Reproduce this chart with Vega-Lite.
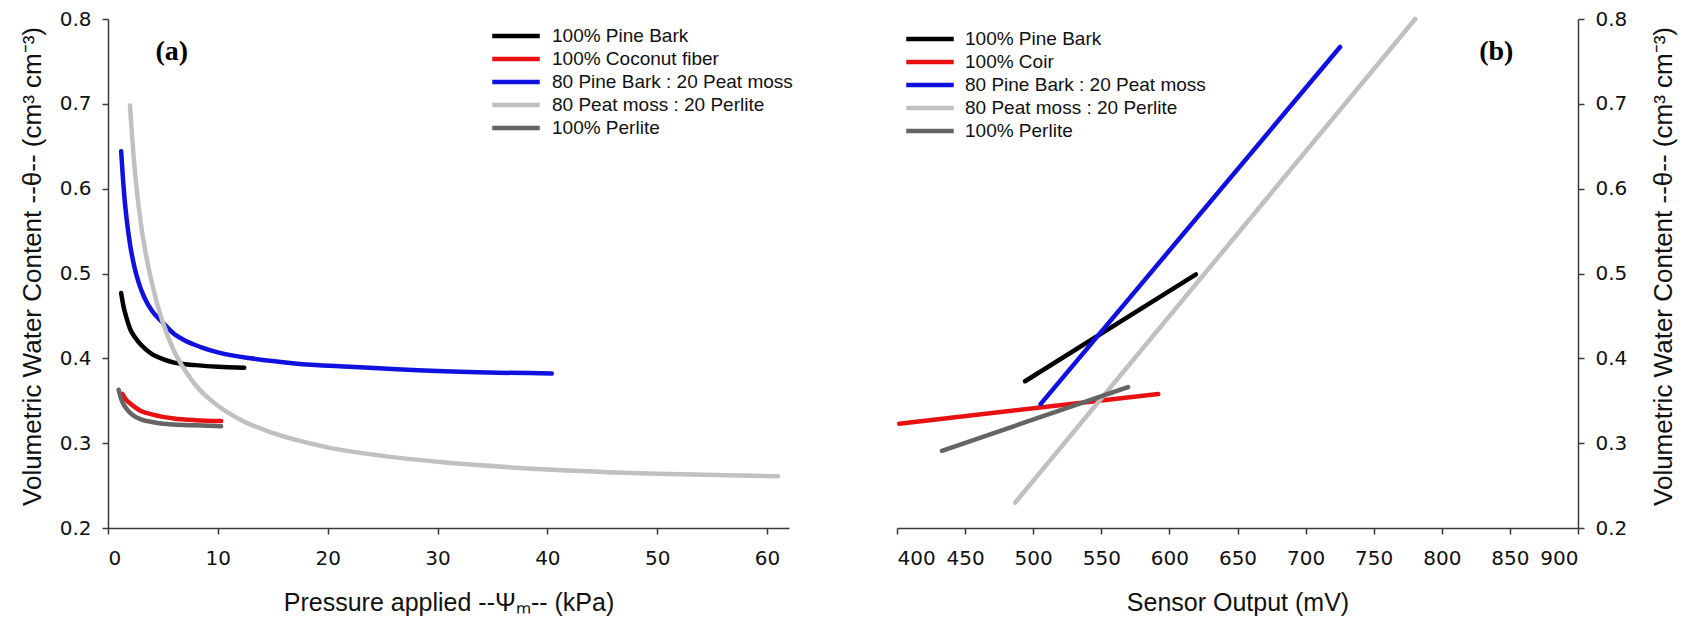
{
  "$schema": "https://vega.github.io/schema/vega-lite/v6.json",
  "background": "white",
  "padding": {"left": 19, "top": 9, "right": 2, "bottom": 5},
  "bounds": "flush",
  "spacing": 108,
  "config": {
    "font": "Liberation Sans",
    "view": {"stroke": null},
    "axis": {
      "domainColor": "#3a3a3a",
      "tickColor": "#3a3a3a",
      "domainWidth": 1.5,
      "tickWidth": 1.5,
      "tickSize": 6,
      "grid": false,
      "labelFont": "DejaVu Sans",
      "labelFontSize": 20,
      "labelColor": "#111111",
      "titleFontSize": 25,
      "titleFontWeight": "normal",
      "titleColor": "#111111",
      "labelPadding": 11
    },
    "legend": {
      "labelColor": "#111111",
      "labelLimit": 0,
      "symbolType": "M-2.5,0H2.5",
      "symbolStrokeWidth": 4.5,
      "symbolSize": 361,
      "rowPadding": 1,
      "padding": 0
    }
  },
  "datasets": {
    "retention": [
      {"series": "100% Pine Bark", "kPa": 1.2, "vwc": 0.477},
      {"series": "100% Pine Bark", "kPa": 1.4, "vwc": 0.462},
      {"series": "100% Pine Bark", "kPa": 1.7, "vwc": 0.447},
      {"series": "100% Pine Bark", "kPa": 2.0, "vwc": 0.435},
      {"series": "100% Pine Bark", "kPa": 2.5, "vwc": 0.424},
      {"series": "100% Pine Bark", "kPa": 3.0, "vwc": 0.416},
      {"series": "100% Pine Bark", "kPa": 4.0, "vwc": 0.405},
      {"series": "100% Pine Bark", "kPa": 5.0, "vwc": 0.399},
      {"series": "100% Pine Bark", "kPa": 6.0, "vwc": 0.395},
      {"series": "100% Pine Bark", "kPa": 8.0, "vwc": 0.392},
      {"series": "100% Pine Bark", "kPa": 10.0, "vwc": 0.390},
      {"series": "100% Pine Bark", "kPa": 12.4, "vwc": 0.389},
      {"series": "100% Coconut fiber", "kPa": 1.3, "vwc": 0.358},
      {"series": "100% Coconut fiber", "kPa": 1.6, "vwc": 0.352},
      {"series": "100% Coconut fiber", "kPa": 2.0, "vwc": 0.347},
      {"series": "100% Coconut fiber", "kPa": 2.5, "vwc": 0.342},
      {"series": "100% Coconut fiber", "kPa": 3.0, "vwc": 0.338},
      {"series": "100% Coconut fiber", "kPa": 4.0, "vwc": 0.334},
      {"series": "100% Coconut fiber", "kPa": 5.0, "vwc": 0.331},
      {"series": "100% Coconut fiber", "kPa": 6.0, "vwc": 0.329},
      {"series": "100% Coconut fiber", "kPa": 8.0, "vwc": 0.327},
      {"series": "100% Coconut fiber", "kPa": 10.3, "vwc": 0.326},
      {"series": "80 Pine Bark : 20 Peat moss", "kPa": 1.2, "vwc": 0.644},
      {"series": "80 Pine Bark : 20 Peat moss", "kPa": 1.35, "vwc": 0.614},
      {"series": "80 Pine Bark : 20 Peat moss", "kPa": 1.5, "vwc": 0.589},
      {"series": "80 Pine Bark : 20 Peat moss", "kPa": 1.7, "vwc": 0.564},
      {"series": "80 Pine Bark : 20 Peat moss", "kPa": 2.0, "vwc": 0.535},
      {"series": "80 Pine Bark : 20 Peat moss", "kPa": 2.4, "vwc": 0.508},
      {"series": "80 Pine Bark : 20 Peat moss", "kPa": 2.8, "vwc": 0.489},
      {"series": "80 Pine Bark : 20 Peat moss", "kPa": 3.3, "vwc": 0.472},
      {"series": "80 Pine Bark : 20 Peat moss", "kPa": 4.0, "vwc": 0.456},
      {"series": "80 Pine Bark : 20 Peat moss", "kPa": 5.0, "vwc": 0.442},
      {"series": "80 Pine Bark : 20 Peat moss", "kPa": 6.0, "vwc": 0.429},
      {"series": "80 Pine Bark : 20 Peat moss", "kPa": 7.0, "vwc": 0.421},
      {"series": "80 Pine Bark : 20 Peat moss", "kPa": 8.5, "vwc": 0.413},
      {"series": "80 Pine Bark : 20 Peat moss", "kPa": 10.0, "vwc": 0.407},
      {"series": "80 Pine Bark : 20 Peat moss", "kPa": 13.0, "vwc": 0.4},
      {"series": "80 Pine Bark : 20 Peat moss", "kPa": 17.0, "vwc": 0.394},
      {"series": "80 Pine Bark : 20 Peat moss", "kPa": 22.0, "vwc": 0.39},
      {"series": "80 Pine Bark : 20 Peat moss", "kPa": 30.0, "vwc": 0.385},
      {"series": "80 Pine Bark : 20 Peat moss", "kPa": 40.4, "vwc": 0.382},
      {"series": "80 Peat moss : 20 Perlite", "kPa": 2.0, "vwc": 0.698},
      {"series": "80 Peat moss : 20 Perlite", "kPa": 2.3, "vwc": 0.643},
      {"series": "80 Peat moss : 20 Perlite", "kPa": 2.6, "vwc": 0.601},
      {"series": "80 Peat moss : 20 Perlite", "kPa": 3.0, "vwc": 0.558},
      {"series": "80 Peat moss : 20 Perlite", "kPa": 3.5, "vwc": 0.519},
      {"series": "80 Peat moss : 20 Perlite", "kPa": 4.0, "vwc": 0.489},
      {"series": "80 Peat moss : 20 Perlite", "kPa": 4.5, "vwc": 0.463},
      {"series": "80 Peat moss : 20 Perlite", "kPa": 5.0, "vwc": 0.442},
      {"series": "80 Peat moss : 20 Perlite", "kPa": 6.0, "vwc": 0.409},
      {"series": "80 Peat moss : 20 Perlite", "kPa": 7.0, "vwc": 0.386},
      {"series": "80 Peat moss : 20 Perlite", "kPa": 8.0, "vwc": 0.368},
      {"series": "80 Peat moss : 20 Perlite", "kPa": 10.0, "vwc": 0.344},
      {"series": "80 Peat moss : 20 Perlite", "kPa": 12.0, "vwc": 0.328},
      {"series": "80 Peat moss : 20 Perlite", "kPa": 15.0, "vwc": 0.312},
      {"series": "80 Peat moss : 20 Perlite", "kPa": 20.0, "vwc": 0.295},
      {"series": "80 Peat moss : 20 Perlite", "kPa": 25.0, "vwc": 0.285},
      {"series": "80 Peat moss : 20 Perlite", "kPa": 30.0, "vwc": 0.278},
      {"series": "80 Peat moss : 20 Perlite", "kPa": 40.0, "vwc": 0.269},
      {"series": "80 Peat moss : 20 Perlite", "kPa": 50.0, "vwc": 0.264},
      {"series": "80 Peat moss : 20 Perlite", "kPa": 61.0, "vwc": 0.261},
      {"series": "100% Perlite", "kPa": 0.97, "vwc": 0.363},
      {"series": "100% Perlite", "kPa": 1.2, "vwc": 0.352},
      {"series": "100% Perlite", "kPa": 1.5, "vwc": 0.344},
      {"series": "100% Perlite", "kPa": 2.0, "vwc": 0.336},
      {"series": "100% Perlite", "kPa": 2.5, "vwc": 0.331},
      {"series": "100% Perlite", "kPa": 3.0, "vwc": 0.328},
      {"series": "100% Perlite", "kPa": 4.0, "vwc": 0.325},
      {"series": "100% Perlite", "kPa": 5.0, "vwc": 0.323},
      {"series": "100% Perlite", "kPa": 6.0, "vwc": 0.322},
      {"series": "100% Perlite", "kPa": 8.0, "vwc": 0.321},
      {"series": "100% Perlite", "kPa": 10.3, "vwc": 0.320}
    ],
    "calibration": [
      {"series": "100% Pine Bark", "mV": 494, "vwc": 0.373},
      {"series": "100% Pine Bark", "mV": 619.5, "vwc": 0.499},
      {"series": "100% Coir", "mV": 401.6, "vwc": 0.323},
      {"series": "100% Coir", "mV": 591.8, "vwc": 0.358},
      {"series": "80 Pine Bark : 20 Peat moss", "mV": 505.4, "vwc": 0.346},
      {"series": "80 Pine Bark : 20 Peat moss", "mV": 725.3, "vwc": 0.767},
      {"series": "80 Peat moss : 20 Perlite", "mV": 486.8, "vwc": 0.23},
      {"series": "80 Peat moss : 20 Perlite", "mV": 780.5, "vwc": 0.8},
      {"series": "100% Perlite", "mV": 433, "vwc": 0.291},
      {"series": "100% Perlite", "mV": 569.6, "vwc": 0.366}
    ]
  },
  "hconcat": [
    {
      "width": 681,
      "height": 509,
      "layer": [
        {
          "data": {"name": "retention"},
          "mark": {"type": "line", "strokeWidth": 4.5, "strokeCap": "round", "interpolate": "monotone"},
          "encoding": {
            "x": {"field": "kPa", "type": "quantitative", "scale": {"domain": [0, 62], "nice": false}, "axis": {"values": [0, 10, 20, 30, 40, 50, 60], "title": "Pressure applied --Ψₘ-- (kPa)", "titlePadding": 22, "labelPadding": 14}},
            "y": {"field": "vwc", "type": "quantitative", "scale": {"domain": [0.2, 0.8], "nice": false}, "axis": {"values": [0.2, 0.3, 0.4, 0.5, 0.6, 0.7, 0.8], "format": ".1f", "title": "Volumetric Water Content --θ-- (cm³ cm⁻³)", "titleFontSize": 26, "titlePadding": 14, "titleY": 247}},
            "color": {
              "field": "series", "type": "nominal",
              "scale": {"domain": ["100% Pine Bark", "100% Coconut fiber", "80 Pine Bark : 20 Peat moss", "80 Peat moss : 20 Perlite", "100% Perlite"], "range": ["#000000", "#e81010", "#1010e0", "#c0c0c0", "#646464"]},
              "legend": {"title": null, "orient": "none", "legendX": 396, "legendY": 5, "labelFontSize": 19, "labelOffset": 24}
            },
            "order": {"field": "kPa", "type": "quantitative"}
          }
        },
        {
          "data": {"values": [{}]},
          "mark": {"type": "text", "text": "(a)", "font": "Liberation Serif", "fontWeight": "bold", "fontSize": 28, "color": "#000000"},
          "encoding": {"x": {"datum": 5.8}, "y": {"datum": 0.761}}
        }
      ]
    },
    {
      "width": 681,
      "height": 509,
      "layer": [
        {
          "data": {"name": "calibration"},
          "mark": {"type": "line", "strokeWidth": 4.5, "strokeCap": "round"},
          "encoding": {
            "x": {"field": "mV", "type": "quantitative", "scale": {"domain": [400, 900], "nice": false}, "axis": {"values": [400, 450, 500, 550, 600, 650, 700, 750, 800, 850, 900], "title": "Sensor Output (mV)", "titlePadding": 22, "labelPadding": 14}},
            "y": {"field": "vwc", "type": "quantitative", "scale": {"domain": [0.2, 0.8], "nice": false}, "axis": {"orient": "right", "values": [0.2, 0.3, 0.4, 0.5, 0.6, 0.7, 0.8], "format": ".1f", "title": "Volumetric Water Content --θ-- (cm³ cm⁻³)", "titleFontSize": 26, "titleAngle": 270, "titleBaseline": "top", "titlePadding": 24, "titleY": 247}},
            "color": {
              "field": "series", "type": "nominal",
              "scale": {"domain": ["100% Pine Bark", "100% Coir", "80 Pine Bark : 20 Peat moss", "80 Peat moss : 20 Perlite", "100% Perlite"], "range": ["#000000", "#e81010", "#1010e0", "#c0c0c0", "#646464"]},
              "legend": {"title": null, "orient": "none", "legendX": 21, "legendY": 8, "labelFontSize": 19, "labelOffset": 23}
            },
            "order": {"field": "mV", "type": "quantitative"}
          }
        },
        {
          "data": {"values": [{}]},
          "mark": {"type": "text", "text": "(b)", "font": "Liberation Serif", "fontWeight": "bold", "fontSize": 28, "color": "#000000"},
          "encoding": {"x": {"datum": 840}, "y": {"datum": 0.761}}
        }
      ]
    }
  ],
  "resolve": {"scale": {"color": "independent", "x": "independent", "y": "independent"}}
}
